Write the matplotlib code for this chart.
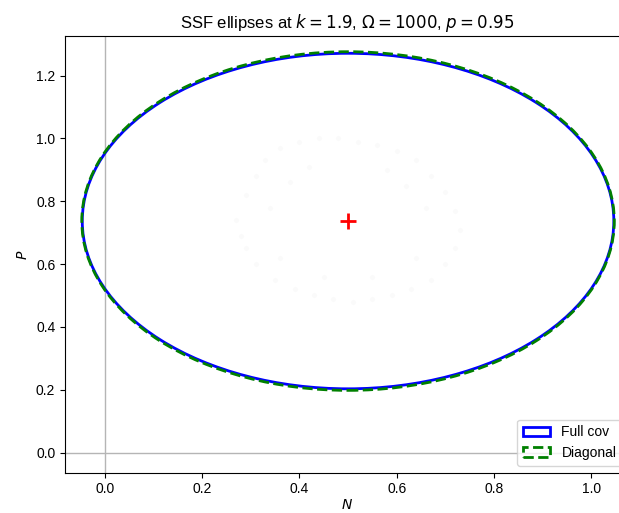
import matplotlib
matplotlib.use("Agg")
import matplotlib.pyplot as plt
from matplotlib.patches import Ellipse
import numpy as np

plt.rcParams["font.family"] = ["Liberation Sans", "DejaVu Sans"]

# steady state (mean) and ellipse sizes
center_N = 0.5
center_P = 0.737
full_width = 1.092
full_height = 1.068
full_angle = 0.0
diag_width = 1.094
diag_height = 1.078

# faint sample cloud around the steady state (hand read, approximate)
cloud_N = [0.27, 0.29, 0.31, 0.33, 0.36, 0.40, 0.44, 0.48, 0.52, 0.56,
           0.60, 0.64, 0.67, 0.70, 0.72, 0.73, 0.72, 0.70, 0.67, 0.63,
           0.59, 0.55, 0.51, 0.47, 0.43, 0.39, 0.35, 0.31, 0.29, 0.28,
           0.34, 0.38, 0.42, 0.58, 0.62, 0.66, 0.36, 0.64, 0.45, 0.55]
cloud_P = [0.74, 0.82, 0.88, 0.93, 0.97, 0.99, 1.00, 1.00, 0.99, 0.98,
           0.96, 0.93, 0.88, 0.83, 0.77, 0.71, 0.65, 0.60, 0.55, 0.52,
           0.50, 0.49, 0.48, 0.49, 0.50, 0.52, 0.55, 0.60, 0.65, 0.69,
           0.78, 0.86, 0.91, 0.90, 0.85, 0.78, 0.62, 0.62, 0.56, 0.56]

fig = plt.figure(figsize=(6.19, 5.13), dpi=100)
ax = fig.add_axes([0.105, 0.0786, 0.911, 0.8512])

ax.axhline(0, color="#b5b5b5", lw=1, zorder=0)
ax.axvline(0, color="#b5b5b5", lw=1, zorder=0)

ax.scatter(cloud_N, cloud_P, s=14, color="gray", alpha=0.035, lw=0)

e_full = Ellipse((center_N, center_P), full_width, full_height, angle=full_angle,
                 fill=False, edgecolor="blue", lw=2, label="Full cov")
e_diag = Ellipse((center_N, center_P), diag_width, diag_height,
                 fill=False, edgecolor="green", lw=2, ls="--", label="Diagonal")
ax.add_patch(e_full)
ax.add_patch(e_diag)

ax.plot([center_N], [center_P], "+", color="red", ms=11, mew=2)

ax.set_xlim(-0.0815, 1.077)
ax.set_ylim(-0.064, 1.326)
ax.set_xticks(np.arange(0, 1.01, 0.2))
ax.set_yticks(np.arange(0, 1.21, 0.2))
ax.set_xlabel("$N$", labelpad=1.5)
ax.set_ylabel("$P$")
ax.set_title(r"SSF ellipses at $k=1.9$, $\Omega=1000$, $p=0.95$", fontsize=12)
ax.legend(loc="lower right")

fig.savefig("out.png", dpi=100)
